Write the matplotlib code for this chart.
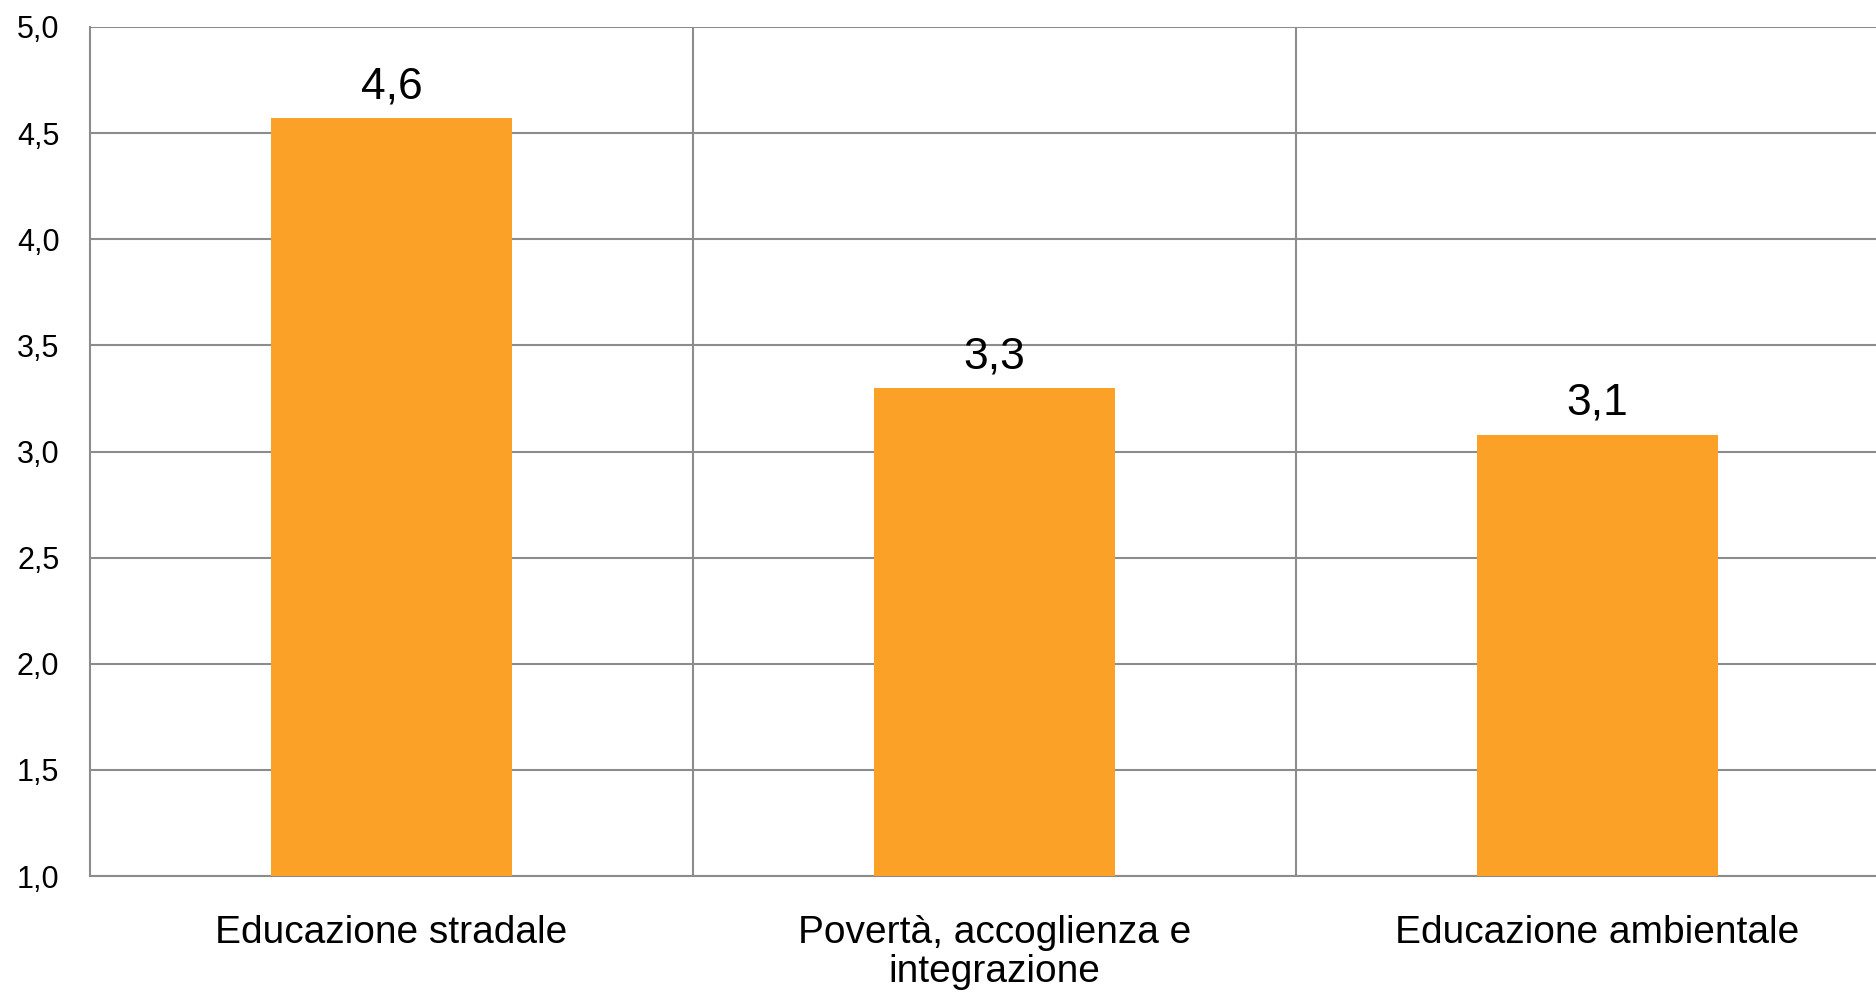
import matplotlib.pyplot as plt

# dati
categorie = ['Educazione stradale', 'Povertà, accoglienza e\nintegrazione', 'Educazione ambientale']
valori = [4.57, 3.30, 3.08]
etichette = ['4,6', '3,3', '3,1']
tick_y = [1.0, 1.5, 2.0, 2.5, 3.0, 3.5, 4.0, 4.5, 5.0]

fig = plt.figure(figsize=(18.76, 9.99), dpi=100)
ax = fig.add_axes([90 / 1876, 123 / 999, 1809 / 1876, 849 / 999])

x = list(range(len(categorie)))
ax.bar(x, [v - 1.0 for v in valori], bottom=1.0, width=0.4, color='#FCA127', zorder=3)

for xi, v, t in zip(x, valori, etichette):
    ax.text(xi, v + 0.05, t, ha='center', va='bottom', fontsize=32,
            family='Liberation Sans', zorder=4)

ax.set_xlim(-0.5, 2.5)
ax.set_ylim(1.0, 5.0)
ax.set_yticks(tick_y)
ax.set_yticklabels([f'{t:.1f}'.replace('.', ',') for t in tick_y], fontsize=22,
                   family='Liberation Sans')
ax.set_xticks(x)
ax.set_xticklabels(categorie, fontsize=28, family='Liberation Sans', linespacing=1.1)

ax.yaxis.grid(True, color='#8c8c8c', linewidth=1.5, zorder=0)
for b in [0.5, 1.5]:
    ax.axvline(b, color='#8c8c8c', linewidth=1.5, zorder=0)

ax.tick_params(axis='both', length=0)
ax.tick_params(axis='x', pad=28)
ax.tick_params(axis='y', pad=22)
for s in ['top', 'right']:
    ax.spines[s].set_visible(False)
for s in ['left', 'bottom']:
    ax.spines[s].set_color('#8c8c8c')
    ax.spines[s].set_linewidth(1.5)

fig.savefig('out.png', dpi=100)
